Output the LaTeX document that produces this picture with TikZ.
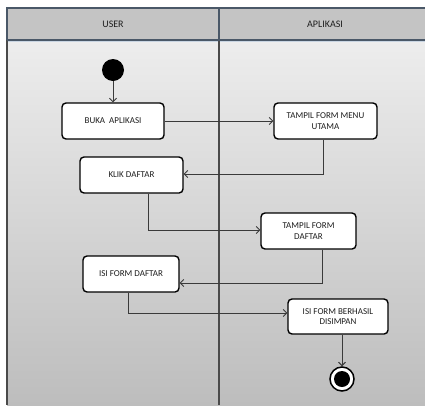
\documentclass[tikz,border=0pt]{standalone}
\usepackage{fontspec}
\setmainfont{Carlito}
\usetikzlibrary{arrows.meta}
\definecolor{headfill}{HTML}{C4C4C4}
\definecolor{headline}{HTML}{4A5868}
\definecolor{headglow}{HTML}{C9D5E2}
\definecolor{bodytop}{HTML}{EDEDED}
\definecolor{bodybottom}{HTML}{BDBDBD}
\definecolor{bodyline}{HTML}{4A4A4A}
\definecolor{flow}{HTML}{3A3A3A}
\definecolor{ink}{HTML}{1E1E1E}
\begin{document}
\begin{tikzpicture}[x=1pt,y=-1pt,
  act/.style={draw=black, line width=1.4pt, fill=white, rounded corners=4pt,
    align=center, inner sep=0pt, text=ink,
    font=\fontsize{9}{10.7}\selectfont},
  flowline/.style={draw=flow, line width=0.9pt,
    -{Straight Barb[length=3.5pt,width=7pt]}},
  lanetitle/.style={text=ink, font=\fontsize{10}{12}\selectfont},
  laneline/.style={draw=headline, line width=1.3pt},
  bodysplit/.style={draw=bodyline, line width=1.1pt}]
\useasboundingbox (0,0) rectangle (425,405);

% swimlane background and headers
\shade[top color=bodytop, bottom color=bodybottom] (7,40) rectangle (425,405);
\fill[headfill] (7,8) rectangle (425,40);
\draw[headglow, line width=1pt] (7,41.5) -- (425,41.5);
\draw[bodysplit] (7,40) -- (7,405);
\draw[bodysplit] (219,40) -- (219,405);
\draw[laneline] (425,8) -- (7,8) -- (7,40);
\draw[laneline] (219,8) -- (219,40);
\draw[laneline] (7,40) -- (425,40);
\node[lanetitle] (userlane) at (113,24) {USER};
\node[lanetitle] (applane) at (325,24) {APLIKASI};

% activities
\node[circle, fill=black, minimum size=22pt, inner sep=0pt] (start) at (113,70) {};
\node[act, minimum width=102pt, minimum height=36pt] (buka) at (113,121) {BUKA\hspace{2pt} APLIKASI};
\node[act, minimum width=103pt, minimum height=36pt] (tampil1) at (325.5,121) {TAMPIL FORM MENU\\UTAMA};
\node[act, minimum width=103pt, minimum height=36pt] (klik) at (131.5,175) {KLIK DAFTAR};
\node[act, minimum width=95pt, minimum height=36pt] (tampil2) at (308.5,231) {TAMPIL FORM\\DAFTAR};
\node[act, minimum width=96pt, minimum height=36pt] (isi) at (131,274) {ISI FORM DAFTAR};
\node[act, minimum width=100pt, minimum height=35pt] (berhasil) at (338,316.5) {ISI FORM BERHASIL\\DISIMPAN};
\node[circle, draw=black, line width=1.5pt, fill=white, minimum size=24pt, inner sep=0pt] (end) at (342,379) {};
\fill[black] (end.center) circle (8);

% control flow
\draw[flowline] (start) -- (buka);
\draw[flowline] (buka.east) -- (tampil1.west);
\draw[flowline] ([xshift=-2.5pt]tampil1.south) |- ([yshift=1pt]klik.east);
\draw[flowline] ([xshift=16.5pt]klik.south) |- ([yshift=1pt]tampil2.west);
\draw[flowline] ([xshift=13.5pt]tampil2.south) |- ([yshift=-9pt]isi.east);
\draw[flowline] ([xshift=-3pt]isi.south) |- ([yshift=3.5pt]berhasil.west);
\draw[flowline] (berhasil.south -| end.north) -- (end.north);
\end{tikzpicture}
\end{document}
